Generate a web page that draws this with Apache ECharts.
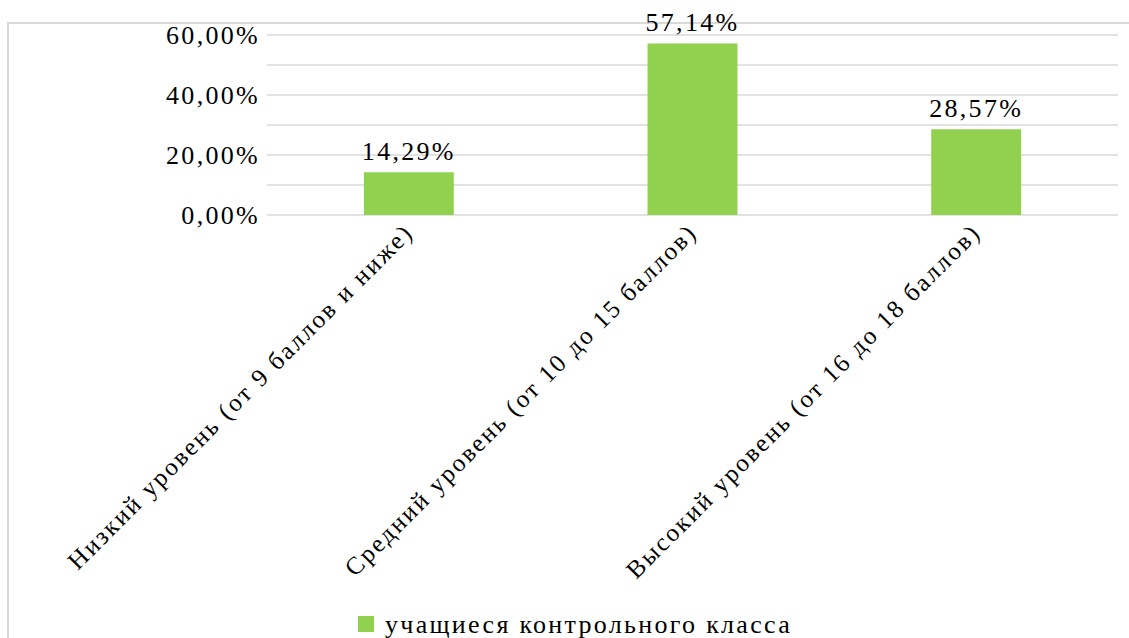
<!DOCTYPE html>
<html>
<head>
<meta charset="utf-8">
<script src="https://cdn.jsdelivr.net/npm/echarts@6/dist/echarts.min.js"></script>
<style>
  html, body { margin: 0; padding: 0; background: #fff; }
  #chart { width: 1129px; height: 638px; }
  /* the source text is set wide; widen it a little */
  #chart svg text { letter-spacing: 2.3px; }
</style>
</head>
<body>
<div id="chart"></div>
<script>
const categories = [
  "Низкий уровень (от 9 баллов и ниже)",
  "Средний уровень (от 10 до 15 баллов)",
  "Высокий уровень (от 16 до 18 баллов)",
];
const seriesName = "учащиеся контрольного класса";
const values = [14.29, 57.14, 28.57];

const fmt = (v) => v.toFixed(2).replace(".", ",") + "%";
const font = "Liberation Serif";

const chart = echarts.init(document.getElementById("chart"), null, { renderer: "svg" });
chart.setOption({
  animation: false,
  textStyle: { fontFamily: font },
  graphic: [
    {
      type: "rect",
      shape: { x: 8, y: 23, width: 1140, height: 640 },
      style: { fill: "none", stroke: "#d9d9d9", lineWidth: 2 },
      silent: true,
    },
  ],
  legend: {
    data: [seriesName],
    bottom: -4,
    left: 353,
    itemWidth: 16,
    itemHeight: 16,
    icon: "rect",
    textStyle: { fontFamily: font, fontSize: 26, color: "#000", padding: [0, 0, 0, 6] },
  },
  grid: { left: 267, right: 11, top: 35, bottom: 423 },
  xAxis: {
    type: "category",
    data: categories,
    axisLine: { show: false },
    axisTick: { show: false },
    axisLabel: {
      interval: 0,
      rotate: 45,
      margin: 13,
      fontFamily: font,
      fontSize: 25,
      color: "#000",
    },
  },
  yAxis: {
    type: "value",
    min: 0,
    max: 60,
    interval: 10,
    axisLine: { show: false },
    axisTick: { show: false },
    splitLine: { lineStyle: { color: "#d9d9d9", width: 1.5 } },
    axisLabel: {
      margin: 7,
      fontFamily: font,
      fontSize: 26,
      color: "#000",
      formatter: (v) => (v % 20 === 0 ? fmt(v) : ""),
    },
  },
  series: [
    {
      name: seriesName,
      type: "bar",
      data: values,
      barWidth: "31.7%",
      itemStyle: { color: "#92d050" },
      label: {
        show: true,
        position: "top",
        distance: 8,
        fontFamily: font,
        fontSize: 26,
        color: "#000",
        formatter: (p) => fmt(p.value),
      },
    },
  ],
});
</script>
</body>
</html>
